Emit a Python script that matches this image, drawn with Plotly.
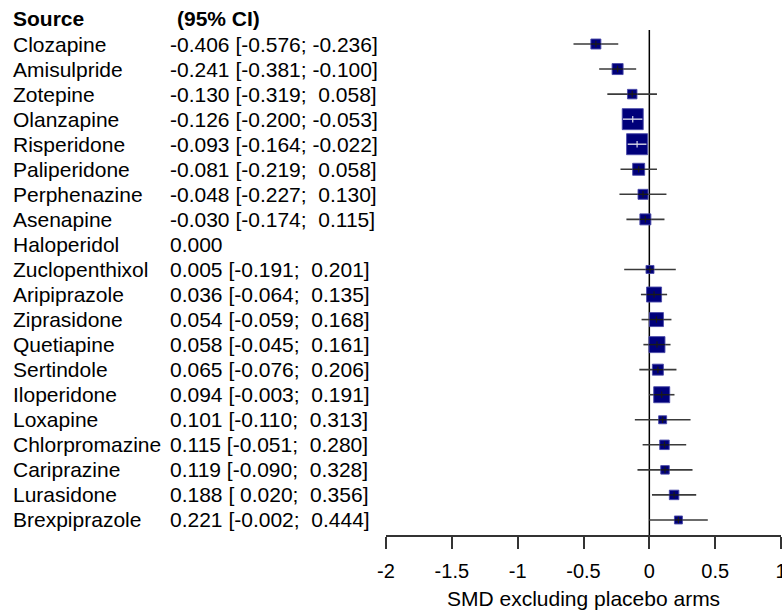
import plotly.graph_objects as go

names = ["Clozapine", "Amisulpride", "Zotepine", "Olanzapine", "Risperidone",
         "Paliperidone", "Perphenazine", "Asenapine", "Haloperidol", "Zuclopenthixol",
         "Aripiprazole", "Ziprasidone", "Quetiapine", "Sertindole", "Iloperidone",
         "Loxapine", "Chlorpromazine", "Cariprazine", "Lurasidone", "Brexpiprazole"]
est = [-0.406, -0.241, -0.130, -0.126, -0.093, -0.081, -0.048, -0.030, 0.000, 0.005,
       0.036, 0.054, 0.058, 0.065, 0.094, 0.101, 0.115, 0.119, 0.188, 0.221]
lo = [-0.576, -0.381, -0.319, -0.200, -0.164, -0.219, -0.227, -0.174, None, -0.191,
      -0.064, -0.059, -0.045, -0.076, -0.003, -0.110, -0.051, -0.090, 0.020, -0.002]
hi = [-0.236, -0.100, 0.058, -0.053, -0.022, 0.058, 0.130, 0.115, None, 0.201,
      0.135, 0.168, 0.161, 0.206, 0.191, 0.313, 0.280, 0.328, 0.356, 0.444]
# relative study weight (box side)
weights = [10, 11, 9.5, 21, 21, 12, 10, 11, None, 8,
           15, 14, 16, 11, 16, 8, 9.5, 8.5, 9.5, 8]
tick_vals = [-2, -1.5, -1, -0.5, 0, 0.5, 1]
tick_text = ["-2", "-1.5", "-1", "-0.5", "0", "0.5", "1"]
x_title = "SMD excluding placebo arms"

W, H = 782, 610
FONT = "Liberation Sans, Arial, sans-serif"
FS = 21
x0_px, x1_px = 386, 781
px_per_unit = (x1_px - x0_px) / 3.0
rows = list(range(1, len(names) + 1))


def fmt(v):
    s = f"{v:.3f}"
    return s if v < 0 else "\u00a0" + s


def label(e, l, h):
    if l is None:
        return f"{e:.3f}"
    return f"{e:.3f} [{fmt(l)}; {fmt(h)}]".replace("[\u00a0", "[ ")


fig = go.Figure()

# CI lines
cx, cy = [], []
for r, l, h in zip(rows, lo, hi):
    if l is None:
        continue
    cx += [l, h, None]
    cy += [r, r, None]
fig.add_trace(go.Scatter(x=cx, y=cy, mode="lines",
                         line=dict(color="#3a3a3a", width=1.6),
                         hoverinfo="skip", showlegend=False))

# boxes
bx = [e for e, w in zip(est, weights) if w is not None]
by = [r for r, w in zip(rows, weights) if w is not None]
bs = [w for w in weights if w is not None]
fig.add_trace(go.Scatter(x=bx, y=by, mode="markers",
                         marker=dict(symbol="square", size=bs, color="#00007a",
                                     opacity=1,
                                     line=dict(color="#4a4aa8", width=0.9)),
                         hoverinfo="skip", showlegend=False))

# CI inside box drawn light, otherwise dark
for r, e, l, h, w in zip(rows, est, lo, hi, weights):
    if l is None:
        continue
    half = w / 2.0 / px_per_unit
    inside = (l >= e - half) and (h <= e + half)
    col = "#d8d8e8" if inside else "#1a1a1a"
    a, b = max(l, e - half), min(h, e + half)
    fig.add_trace(go.Scatter(x=[a, b], y=[r, r], mode="lines",
                             line=dict(color=col, width=1.4),
                             hoverinfo="skip", showlegend=False))
    fig.add_trace(go.Scatter(x=[e, e], y=[r - 0.13, r + 0.13], mode="lines",
                             line=dict(color=col, width=1.2),
                             hoverinfo="skip", showlegend=False))

# reference line at 0
fig.add_shape(type="line", xref="x", yref="y", x0=0, x1=0, y0=0.44, y1=20.6,
              line=dict(color="black", width=1.5), layer="below")

# text columns
ann = []
tf = dict(family=FONT, size=FS, color="black")
ann.append(dict(x=11 / W, y=0, xref="paper", yref="y", text="<b>Source</b>",
                showarrow=False, xanchor="left", yanchor="middle", font=tf))
ann.append(dict(x=175 / W, y=0, xref="paper", yref="y", text="<b>(95% CI)</b>",
                showarrow=False, xanchor="left", yanchor="middle", font=tf))
for r, n, e, l, h in zip(rows, names, est, lo, hi):
    ann.append(dict(x=11 / W, y=r, xref="paper", yref="y", text=n,
                    showarrow=False, xanchor="left", yanchor="middle", font=tf))
    ann.append(dict(x=168 / W, y=r, xref="paper", yref="y", text=label(e, l, h),
                    showarrow=False, xanchor="left", yanchor="middle", font=tf))
ann.append(dict(x=-0.5, y=(535 - 598) / 535, xref="x", yref="paper", text=x_title,
                showarrow=False, xanchor="center", yanchor="middle", font=tf))

fig.update_layout(
    width=W, height=H,
    margin=dict(l=0, r=0, t=0, b=75, pad=0, autoexpand=False),
    paper_bgcolor="white", plot_bgcolor="white",
    annotations=ann,
    xaxis=dict(domain=[x0_px / W, x1_px / W], range=[-2, 1],
               tickmode="array", tickvals=tick_vals, ticktext=tick_text,
               ticks="outside", ticklen=12, tickwidth=1.5, tickcolor="#333",
               showline=True, linecolor="#333", linewidth=1.5,
               showgrid=False, zeroline=False, automargin=False,
               ticklabeloverflow="allow",
               tickfont=dict(family=FONT, size=FS - 1, color="black"),
               ticklabelstandoff=5),
    yaxis=dict(range=[20.6, -0.757], visible=False, showgrid=False,
               zeroline=False, automargin=False),
)

fig.write_html("out.html")
